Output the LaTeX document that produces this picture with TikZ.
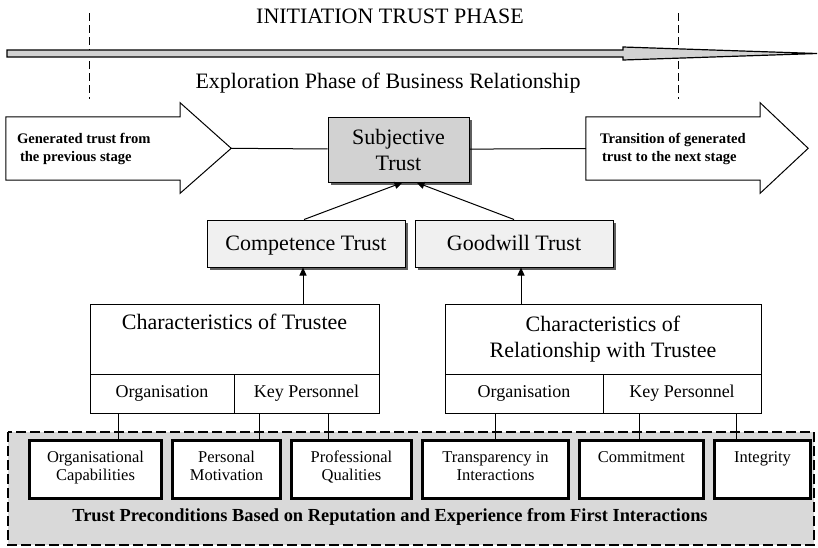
\documentclass[tikz,border=0pt]{standalone}
\usepackage{fontspec}
\setmainfont{Liberation Serif}
\usetikzlibrary{arrows.meta,positioning,shadows}
\definecolor{shade}{RGB}{95,95,95}
\tikzset{txt/.style={font=\fontsize{22}{26}\selectfont,align=center},
  trustbox/.style={draw,line width=1pt,fill=gray!12,txt,minimum height=47pt,
    drop shadow={shadow xshift=3pt,shadow yshift=-3pt,fill=shade,opacity=1}},
  oneline/.style={text height=16pt,text depth=2pt},
  charbox/.style={draw,line width=1pt,fill=white,txt,outer sep=0pt},
  cell/.style={draw,line width=1pt,fill=white,font=\fontsize{18}{21}\selectfont,minimum height=39pt,outer sep=0pt,anchor=north west},
  precond/.style={draw,line width=3pt,fill=white,align=center,font=\fontsize{16.5}{18}\selectfont,
    minimum height=58pt,text height=30pt,text depth=8pt},
  stage/.style={font=\fontsize{14.6}{18}\selectfont\bfseries,align=flush left,minimum height=63pt},
  arr/.style={-{Triangle[length=8pt,width=7pt]},line width=1pt},
  phase/.style={dash pattern=on 8pt off 4pt,line width=1pt}}

\begin{document}
\begin{tikzpicture}[x=1pt,y=-1pt,node distance=8pt]
\useasboundingbox (0,0) rectangle (818,547);
% phase header
\node[txt] (init) at (390,16) {INITIATION TRUST PHASE};
\node[txt] (expl) at (388,83) {Exploration Phase of Business Relationship};
\draw[phase] (89,13) -- (89,99);
\draw[phase] (678,13) -- (678,99);
\draw[line width=1.2pt,fill=gray!35] (7,50) -- (623,50) -- (623,47) -- (817,53.5) -- (623,60) -- (623,57) -- (7,57) -- cycle;
% stage arrows
\node[stage,text width=152pt,inner xsep=11pt] (prev) at (93,148.5) {Generated trust from\\\hspace{3pt}the previous stage};
\draw[line width=1pt] (prev.north west) -- (prev.north east) -- ++(0,-14) -- ++(51,45.5) coordinate (prevtip)
  -- ([yshift=-13pt]prev.south east) -- (prev.south east) -- (prev.south west) -- cycle;
\node[stage,text width=154pt,inner xsep=10pt] (next) at (673,148.5) {\hspace{4pt}Transition of generated\\\hspace{6pt}trust to the next stage};
\draw[line width=1pt] (next.north west) -- (next.north east) -- ++(0,-14) -- ++(48,45.5) coordinate (nexttip)
  -- ([yshift=-13pt]next.south east) -- (next.south east) -- (next.south west) -- cycle;
% trust boxes
\node[trustbox,fill=gray!35,minimum width=141pt,minimum height=65pt] (subj) at (398.5,149.5) {Subjective\\Trust};
\node[trustbox,oneline,minimum width=198pt] (comp) at (306,243.5) {Competence Trust};
\node[trustbox,oneline,minimum width=198pt,right=9pt of comp] (good) {Goodwill Trust};
\draw[line width=1pt] (prevtip) -- (subj);
\draw[line width=1pt] (subj) -- (next.west);
\draw[arr] ([xshift=-2pt]comp.north) -- ([xshift=4pt]subj.south);
\draw[arr] (good.north) -- ([xshift=18pt]subj.south);
% characteristics
\node[charbox,minimum width=289pt,minimum height=70pt] (chT) at (234.5,339) {Characteristics of Trustee\\\strut};
\node[cell,minimum width=144pt] (orgL) at (chT.south west) {Organisation};
\node[cell,minimum width=145pt] (keyL) at (orgL.north east) {Key Personnel};
\node[charbox,minimum width=316pt,minimum height=70pt] (chR) at (603,339) {Characteristics of\\Relationship with Trustee};
\node[cell,minimum width=158pt] (orgR) at (chR.south west) {Organisation};
\node[cell,minimum width=158pt] (keyR) at (orgR.north east) {Key Personnel};
\draw[arr] ([xshift=-3pt]comp.south |- chT.north) -- ([xshift=-3pt]comp.south);
\draw[arr] ([xshift=7pt]good.south |- chR.north) -- ([xshift=7pt]good.south);
% preconditions
\draw[fill=gray!30,line width=1.2pt,dash pattern=on 10pt off 4pt] (8,432) rectangle (814,545);
\node[precond,minimum width=132pt] (orgcap) at (95.5,469.5) {Organisational\\Capabilities};
\node[precond,minimum width=108pt,right=of orgcap] (persmot) {Personal\\Motivation};
\node[precond,minimum width=120pt,right=of persmot] (profq) {Professional\\Qualities};
\node[precond,minimum width=146pt,right=of profq] (transp) {Transparency in\\Interactions};
\node[precond,minimum width=124pt,right=of transp] (commit) {Commitment\\\strut};
\node[precond,minimum width=96pt,right=of commit] (integ) {Integrity\\\strut};
\foreach \up/\down/\dx in {orgL/orgcap/-44,keyL/persmot/-47.5,keyL/profq/21.5,orgR/transp/-29,keyR/commit/-43,keyR/integ/54}
  \draw[line width=1pt] ([xshift=\dx pt]\up.south) -- ([xshift=\dx pt]\up.south |- \down.north);
\node[font=\fontsize{18.4}{22}\selectfont\bfseries] (pretxt) at (390,517) {Trust Preconditions Based on Reputation and Experience from First Interactions};
\end{tikzpicture}
\end{document}
